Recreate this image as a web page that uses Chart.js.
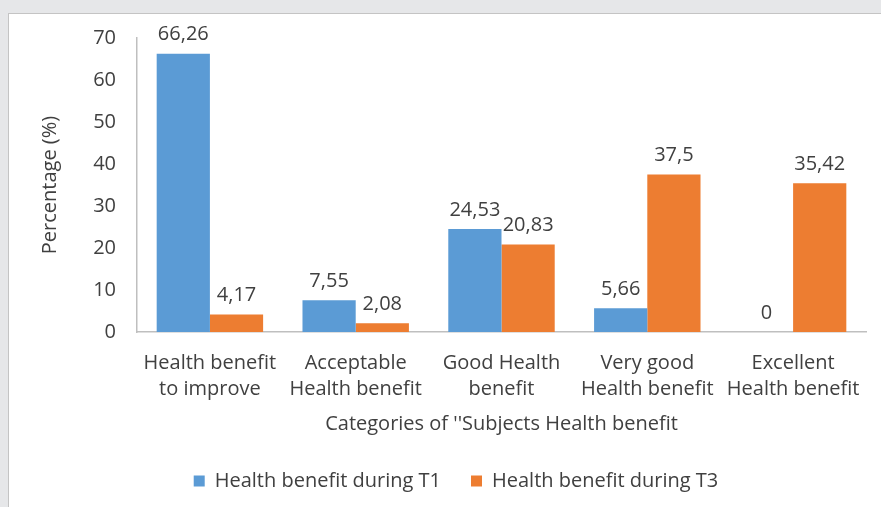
<!DOCTYPE html>
<html>
<head>
<meta charset="utf-8">
<script src="https://cdn.jsdelivr.net/npm/chart.js@4"></script>
<style>
  html, body { margin: 0; padding: 0; }
  body { width: 881px; height: 507px; background: #e6e7e9; overflow: hidden; position: relative; }
  #panel {
    position: absolute; left: 8px; top: 13px; width: 900px; height: 520px;
    background: #fff; border: 1px solid #c4c4c4; box-sizing: border-box;
  }
  #wrap { position: absolute; left: 0; top: 0; width: 881px; height: 507px; }
</style>
</head>
<body>
<div id="panel"></div>
<div id="wrap"><canvas id="chart"></canvas></div>
<script>
// chart values
const categories = [
    ['Health benefit', 'to improve'],
    ['Acceptable', 'Health benefit'],
    ['Good Health', 'benefit'],
    ['Very good', 'Health benefit'],
    ['Excellent', 'Health benefit']
];
const seriesT1 = [66.26, 7.55, 24.53, 5.66, 0];
const seriesT3 = [4.17, 2.08, 20.83, 37.5, 35.42];
const seriesNames = ['Health benefit during T1', 'Health benefit during T3'];
const yTicks = [0, 10, 20, 30, 40, 50, 60, 70];

const FONT = 'Open Sans';
const TEXT = '#404040';
const SIZE = 20;

// draws the value above every bar, with a decimal comma
const valueLabels = {
    id: 'valueLabels',
    afterDatasetsDraw(chart) {
        const ctx = chart.ctx;
        ctx.save();
        ctx.font = SIZE + 'px "' + FONT + '"';
        ctx.fillStyle = TEXT;
        ctx.textAlign = 'center';
        ctx.textBaseline = 'bottom';
        chart.data.datasets.forEach((ds, i) => {
            chart.getDatasetMeta(i).data.forEach((bar, j) => {
                const txt = String(ds.data[j]).replace('.', ',');
                ctx.fillText(txt, bar.x, bar.y - 9);
            });
        });
        ctx.restore();
    }
};

// legend sits a little right of the plot centre in the original
const legendShift = {
    id: 'legendShift',
    afterLayout(chart) {
        chart.legend.left += 4;
        chart.legend.right += 4;
    }
};

Chart.defaults.font.family = FONT;
Chart.defaults.font.size = SIZE;
Chart.defaults.color = TEXT;

new Chart(document.getElementById('chart'), {
    type: 'bar',
    data: {
        labels: categories,
        datasets: [
            { label: seriesNames[0], data: seriesT1, backgroundColor: '#5b9bd5' },
            { label: seriesNames[1], data: seriesT3, backgroundColor: '#ed7d31' }
        ]
    },
    options: {
        responsive: true,
        maintainAspectRatio: false,
        animation: false,
        layout: { padding: { left: 38, right: 15, top: 38, bottom: 6 } },
        datasets: { bar: { categoryPercentage: 0.73, barPercentage: 1 } },
        plugins: {
            tooltip: { enabled: false },
            legend: {
                position: 'bottom',
                labels: {
                    boxWidth: 11, boxHeight: 11, padding: 30,
                    color: TEXT
                },
                onClick: null
            }
        },
        scales: {
            x: {
                afterFit: s => { s.height = 109; },
                grid: { display: false },
                border: { color: '#bfbfbf', width: 1.5 },
                ticks: { padding: 10, maxRotation: 0, autoSkip: false, font: { lineHeight: 1.3 } },
                title: {
                    display: true, text: "Categories of ''Subjects Health benefit",
                    padding: { top: 4, bottom: 5 }
                }
            },
            y: {
                min: 0, max: 70,
                afterBuildTicks: s => { s.ticks = yTicks.map(v => ({ value: v })); },
                afterFit: s => { s.width = 99; },
                grid: { display: false, drawTicks: false },
                border: { color: '#bfbfbf', width: 1.5 },
                ticks: { padding: 21 },
                title: {
                    display: true, text: 'Percentage (%)',
                    padding: { top: 0, bottom: 0 }
                }
            }
        }
    },
    plugins: [valueLabels, legendShift]
});
</script>
</body>
</html>
